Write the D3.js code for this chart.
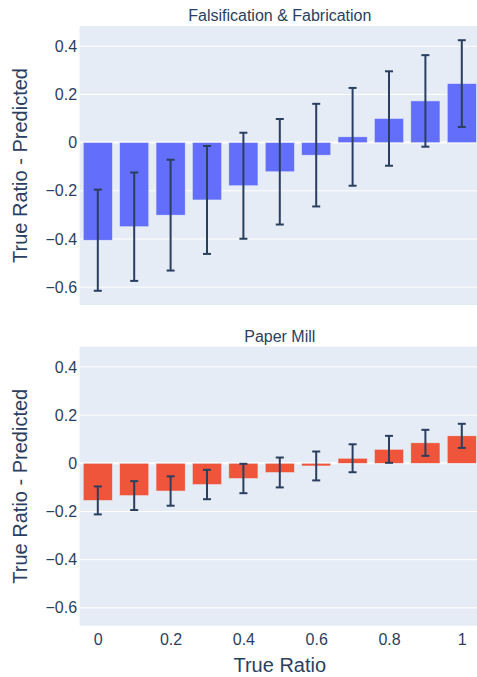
<!DOCTYPE html>
<html>
<head>
<meta charset="utf-8">
<script src="https://cdn.jsdelivr.net/npm/d3@7"></script>
<style>
body { margin: 0; background: #fff; }
svg { display: block; font-family: "Liberation Sans", Arial, sans-serif; }
</style>
</head>
<body>
<div id="chart"></div>
<script>
var ratios = [0, 0.1, 0.2, 0.3, 0.4, 0.5, 0.6, 0.7, 0.8, 0.9, 1];
var xTicks = [0, 0.2, 0.4, 0.6, 0.8, 1];
var yTicks = [-0.6, -0.4, -0.2, 0, 0.2, 0.4];

var ffMean = [-0.405, -0.349, -0.301, -0.238, -0.179, -0.121, -0.052, 0.024, 0.100, 0.173, 0.245];
var ffErr  = [0.21, 0.225, 0.23, 0.224, 0.22, 0.219, 0.213, 0.203, 0.196, 0.19, 0.18];
var pmMean = [-0.154, -0.134, -0.115, -0.088, -0.063, -0.038, -0.011, 0.021, 0.058, 0.085, 0.114];
var pmErr  = [0.058, 0.06, 0.061, 0.061, 0.061, 0.062, 0.06, 0.058, 0.056, 0.054, 0.05];

var W = 477, H = 677;
var left = 79.6, right = 480;
var textColor = "#2a3f5f";

var svg = d3.select("#chart").append("svg")
    .attr("width", W)
    .attr("height", H);

var xScale = d3.scaleLinear()
    .domain([-0.05, 1.05])
    .range([left, right]);

function drawPanel(title, means, errs, color, top, bottom, showX){
    var yScale = d3.scaleLinear()
	.domain([-0.674, 0.484])
	.range([bottom, top]);

    var g = svg.append("g");

    g.append("rect")
	.attr("x", left).attr("y", top)
	.attr("width", right - left).attr("height", bottom - top)
	.attr("fill", "#E5ECF6");

    // gridlines
    g.selectAll(".grid")
	.data(yTicks)
	.enter()
	.append("line")
	.attr("x1", left).attr("x2", right)
	.attr("y1", function(d) { return yScale(d); })
	.attr("y2", function(d) { return yScale(d); })
	.attr("stroke", "#fff")
	.attr("stroke-width", function(d) { return d == 0 ? 2 : 1; });

    // y axis labels
    var yAxis = d3.axisLeft(yScale)
	.tickValues(yTicks)
	.tickSize(0)
	.tickPadding(2)
	.tickFormat(function(d) { return d == 0 ? "0" : d3.format(".1f")(d).replace("-", "\u2212"); });
    var ya = g.append("g")
	.attr("transform", "translate(" + (left - 0.5) + ",0)")
	.call(yAxis);
    ya.select(".domain").remove();
    ya.selectAll("text")
	.attr("fill", textColor)
	.style("font-size", "16px")
	.style("font-family", "'Liberation Sans', Arial, sans-serif");

    // bars
    g.selectAll(".bar")
	.data(means)
	.enter()
	.append("rect")
	.attr("x", function(d, i) { return xScale(ratios[i] - 0.04); })
	.attr("width", xScale(0.08) - xScale(0))
	.attr("y", function(d) { return yScale(Math.max(0, d)); })
	.attr("height", function(d) { return Math.abs(yScale(d) - yScale(0)); })
	.attr("fill", color)
	.attr("stroke", "#E5ECF6")
	.attr("stroke-width", 0.5);

    // error bars
    var eb = g.selectAll(".err")
	.data(means)
	.enter()
	.append("g")
	.attr("stroke", textColor)
	.attr("stroke-width", 2);
    eb.append("line")
	.attr("x1", function(d, i) { return xScale(ratios[i]); })
	.attr("x2", function(d, i) { return xScale(ratios[i]); })
	.attr("y1", function(d, i) { return yScale(d + errs[i]); })
	.attr("y2", function(d, i) { return yScale(d - errs[i]); });
    eb.append("line")
	.attr("x1", function(d, i) { return xScale(ratios[i]) - 4; })
	.attr("x2", function(d, i) { return xScale(ratios[i]) + 4; })
	.attr("y1", function(d, i) { return yScale(d + errs[i]); })
	.attr("y2", function(d, i) { return yScale(d + errs[i]); });
    eb.append("line")
	.attr("x1", function(d, i) { return xScale(ratios[i]) - 4; })
	.attr("x2", function(d, i) { return xScale(ratios[i]) + 4; })
	.attr("y1", function(d, i) { return yScale(d - errs[i]); })
	.attr("y2", function(d, i) { return yScale(d - errs[i]); });

    // subplot title
    g.append("text")
	.attr("x", (left + right) / 2)
	.attr("y", top - 5)
	.attr("text-anchor", "middle")
	.attr("fill", textColor)
	.style("font-size", "16px")
	.text(title);

    // y title
    g.append("text")
	.attr("transform", "translate(27," + ((top + bottom) / 2) + ")rotate(-90)")
	.attr("text-anchor", "middle")
	.attr("fill", textColor)
	.style("font-size", "20px")
	.text("True Ratio - Predicted");

    if(showX){
	var xa = g.append("g")
	    .attr("transform", "translate(0," + bottom + ")")
	    .call(d3.axisBottom(xScale)
		  .tickValues(xTicks)
		  .tickSize(0)
		  .tickPadding(8)
		  .tickFormat(function(d) { return d == 0 || d == 1 ? d3.format("d")(d) : d3.format(".1f")(d); }));
	xa.select(".domain").remove();
	xa.selectAll("text")
	    .attr("fill", textColor)
	    .style("font-size", "16px")
	    .style("font-family", "'Liberation Sans', Arial, sans-serif");

	g.append("text")
	    .attr("x", (left + right) / 2)
	    .attr("y", 672)
	    .attr("text-anchor", "middle")
	    .attr("fill", textColor)
	    .style("font-size", "20px")
	    .text("True Ratio");
    }
}

drawPanel("Falsification & Fabrication", ffMean, ffErr, "#636efa", 26, 305, false);
drawPanel("Paper Mill", pmMean, pmErr, "#EF553B", 346.7, 625.7, true);
</script>
</body>
</html>
